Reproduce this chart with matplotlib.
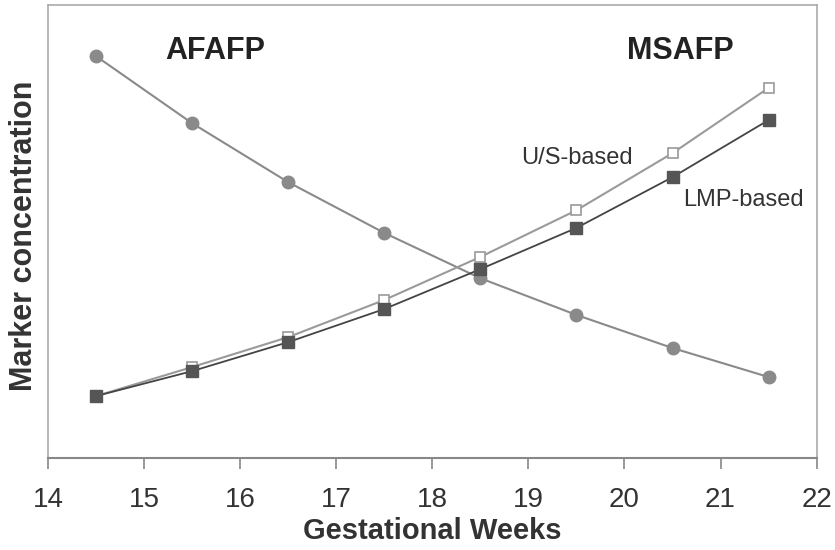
import matplotlib.pyplot as plt

weeks = [14.5, 15.5, 16.5, 17.5, 18.5, 19.5, 20.5, 21.5]
afafp = [88.7, 73.9, 60.9, 49.7, 39.7, 31.6, 24.3, 17.9]
msafp_us = [13.7, 20.1, 26.7, 34.9, 44.4, 54.7, 67.3, 81.7]
msafp_lmp = [13.7, 19.2, 25.6, 32.9, 41.7, 50.8, 62.0, 74.6]
xticks = [14, 15, 16, 17, 18, 19, 20, 21, 22]

plt.rcParams['font.family'] = ['Liberation Sans', 'DejaVu Sans']

fig = plt.figure(figsize=(8.35, 5.5), dpi=100)
ax = fig.add_axes([0.0575, 0.167, 0.9205, 0.824])

ax.plot(weeks, afafp, color='#8a8a8a', lw=1.5, marker='o', ms=9,
        mfc='#8a8a8a', mec='#8a8a8a')
ax.plot(weeks, msafp_us, color='#9a9a9a', lw=1.5, marker='s', ms=7.5,
        mfc='white', mec='#9a9a9a', mew=1.2)
ax.plot(weeks, msafp_lmp, color='#444444', lw=1.3, marker='s', ms=8,
        mfc='#555555', mec='#555555')

ax.set_xlim(14, 22)
ax.set_ylim(0, 100)
ax.set_xticks(xticks)
ax.set_yticks([])
ax.tick_params(axis='x', direction='out', length=8, width=1.2, color='#888888',
               labelsize=20, labelcolor='#333333', pad=13)
for lbl in ax.get_xticklabels():
    lbl.set_family(['Liberation Sans Narrow', 'Liberation Sans', 'DejaVu Sans'])

for side in ['left', 'top', 'right']:
    ax.spines[side].set_color('#aaaaaa')
    ax.spines[side].set_linewidth(1.2)
ax.spines['bottom'].set_color('#888888')
ax.spines['bottom'].set_linewidth(1.5)

ax.set_xlabel('Gestational Weeks', fontsize=21, fontweight='bold',
              color='#333333', labelpad=3)
ax.set_ylabel('Marker concentration', fontsize=22, fontweight='bold',
              color='#333333')
ax.yaxis.set_label_coords(-0.0117, 0.49)

ax.text(15.22, 89.8, 'AFAFP', fontsize=22, fontweight='bold', color='#222222',
        va='center', ha='left')
ax.text(20.03, 89.8, 'MSAFP', fontsize=22, fontweight='bold', color='#222222',
        va='center', ha='left')
ax.text(18.92, 66.3, 'U/S-based', fontsize=17, color='#333333',
        va='center', ha='left')
ax.text(20.61, 57.0, 'LMP-based', fontsize=17, color='#333333',
        va='center', ha='left')

fig.savefig('out.png', dpi=100)
